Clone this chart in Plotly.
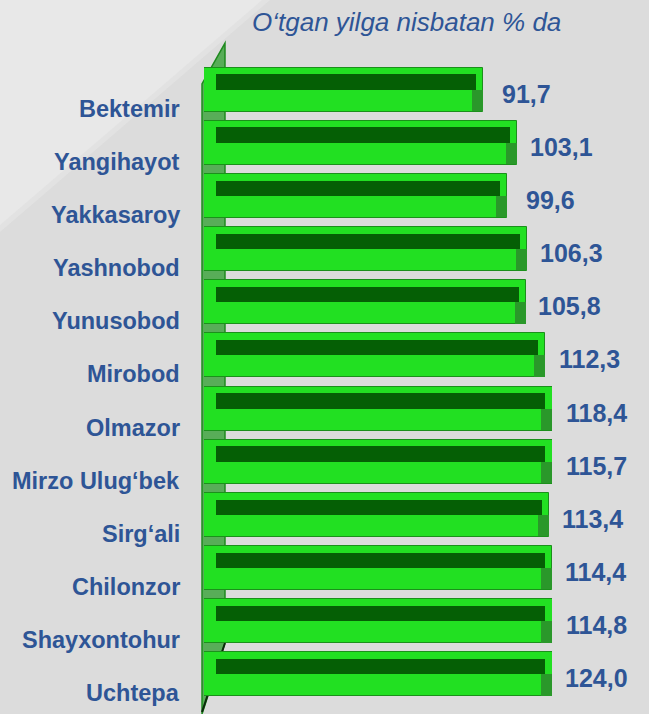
import plotly.graph_objects as go

# District growth, per cent of the previous year
districts = ["Bektemir", "Yangihayot", "Yakkasaroy", "Yashnobod", "Yunusobod", "Mirobod",
             "Olmazor", "Mirzo Ulug‘bek", "Sirg‘ali", "Chilonzor", "Shayxontohur", "Uchtepa"]
growth = [91.7, 103.1, 99.6, 106.3, 105.8, 112.3, 118.4, 115.7, 113.4, 114.4, 114.8, 124.0]
title_text = "O‘tgan yilga nisbatan % da"

X_MAX = 114.5                 # value axis is cut here; longer bars are clipped at the edge
W, H = 649, 714
L, R, T, B = 204, 97, 63, 13
PW, PH = W - L - R, H - T - B

TEXT_BLUE = "#2e5596"
FONT = "Liberation Sans, Arial, sans-serif"

n = len(districts)
pos = list(range(n))
visible_end = [min(v, X_MAX) for v in growth]


def paper(px, py):
    """Pixel position -> paper coordinates of the plot area."""
    return (px - L) / PW, (H - B - py) / PH


def poly(points):
    pts = [paper(x, y) for x, y in points]
    return "M " + " L ".join(f"{x:.4f},{y:.4f}" for x, y in pts) + " Z"


fig = go.Figure()

# main cylinder body
fig.add_trace(go.Bar(
    x=growth, y=pos, base=0, orientation="h",
    width=0.83, offset=-0.415,
    marker=dict(color="#22e022", line=dict(color="#1b901b", width=1)),
    hoverinfo="skip", showlegend=False,
))
# dark upper band of the cylinder
fig.add_trace(go.Bar(
    x=[e - 4.0 - 2.3 for e in visible_end], y=pos, base=4.0, orientation="h",
    width=0.29, offset=-0.29,
    marker=dict(color="#055f05", line=dict(width=0)),
    hoverinfo="skip", showlegend=False,
))
# shaded end cap
fig.add_trace(go.Bar(
    x=[3.6] * n, y=pos, base=[e - 3.6 for e in visible_end], orientation="h",
    width=0.4, offset=0.0,
    marker=dict(color="#2a982a", line=dict(width=0)),
    hoverinfo="skip", showlegend=False,
))

annotations = []
for i, name in enumerate(districts):
    annotations.append(dict(
        x=0, xref="paper", y=i, yref="y", xanchor="right", yanchor="middle",
        xshift=-22, yshift=-19, showarrow=False,
        text=f"<b>{name}</b>", font=dict(family=FONT, size=23.5, color=TEXT_BLUE),
    ))
for i, (v, e) in enumerate(zip(growth, visible_end)):
    annotations.append(dict(
        x=e, xref="x", y=i, yref="y", xanchor="center", yanchor="middle",
        xshift=44, yshift=-4, showarrow=False,
        text="<b>" + f"{v:.1f}".replace(".", ",") + "</b>",
        font=dict(family=FONT, size=25, color=TEXT_BLUE),
    ))
tx, ty = paper(406, 22)
annotations.append(dict(
    x=tx, y=ty, xref="paper", yref="paper", xanchor="center", yanchor="middle",
    showarrow=False, text=f"<i>{title_text}</i>",
    font=dict(family=FONT, size=26, color=TEXT_BLUE),
))

shapes = [
    # light diagonal wedge in the upper-left corner
    dict(type="path", xref="paper", yref="paper", layer="below",
         path=poly([(0, 0), (270, 0), (0, 232)]), fillcolor="#e2e2e2", line=dict(width=0)),
    dict(type="path", xref="paper", yref="paper", layer="below",
         path=poly([(0, 0), (262, 0), (0, 225)]), fillcolor="#e8e8e8", line=dict(width=0)),
    # the green back wall behind the bars
    dict(type="path", xref="paper", yref="paper", layer="below",
         path=poly([(202, 84), (225, 43), (225, 643), (202, 714)]),
         fillcolor="#58ad58", line=dict(color="#1f8a1f", width=1.5)),
    dict(type="path", xref="paper", yref="paper", layer="below",
         path=poly([(225, 643), (202, 712)]), line=dict(color="#0b2a0b", width=2)),
]

fig.update_layout(
    width=W, height=H,
    margin=dict(l=L, r=R, t=T, b=B),
    paper_bgcolor="#dcdcdc", plot_bgcolor="rgba(0,0,0,0)",
    barmode="overlay", bargap=0,
    xaxis=dict(range=[0, X_MAX], visible=False, fixedrange=True),
    yaxis=dict(range=[n - 0.5, -0.5], visible=False, fixedrange=True),
    annotations=annotations, shapes=shapes,
    showlegend=False,
)

fig.write_html("out.html")
